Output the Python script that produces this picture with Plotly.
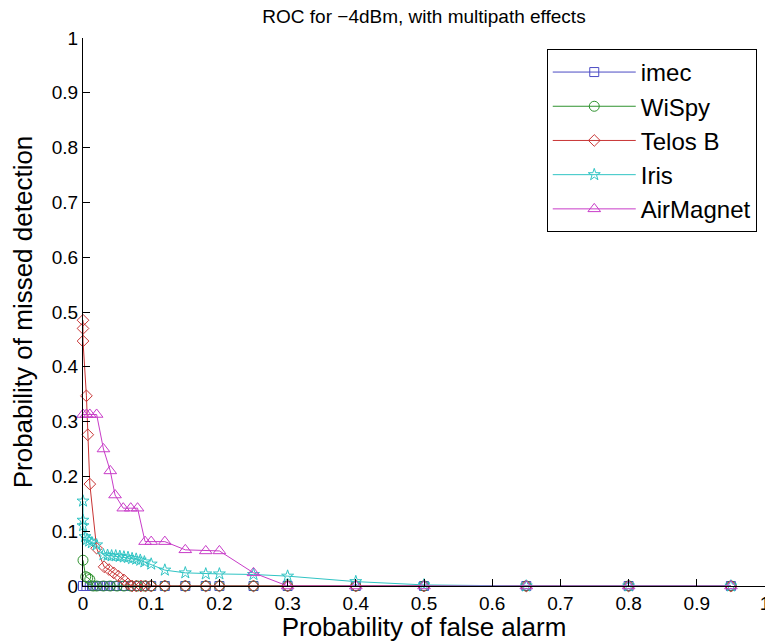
import plotly.graph_objects as go

# ---- data ----
imec_x = [0, 0.005, 0.01, 0.015, 0.02, 0.025, 0.03, 0.035, 0.04, 0.045, 0.05, 0.06, 0.07,
          0.08, 0.09, 0.1, 0.12, 0.15, 0.18, 0.2, 0.25, 0.3, 0.4, 0.5, 0.65, 0.8, 0.95]
imec_y = [0] * len(imec_x)

wispy_x = [0, 0.004, 0.007, 0.01, 0.015, 0.02, 0.03, 0.04, 0.05, 0.06, 0.07, 0.08, 0.09,
           0.1, 0.12, 0.15, 0.18, 0.2, 0.25, 0.3, 0.4, 0.5, 0.65, 0.8, 0.95]
wispy_y = [0.047, 0.017, 0.015, 0.012, 0, 0, 0, 0, 0, 0, 0, 0, 0,
           0, 0, 0, 0, 0, 0, 0, 0, 0, 0, 0, 0]

telos_x = [0, 0, 0, 0.005, 0.007, 0.01, 0.02, 0.031, 0.038, 0.045, 0.052, 0.06, 0.066,
           0.072, 0.078, 0.085, 0.092, 0.1, 0.12, 0.15, 0.18, 0.2, 0.25, 0.3, 0.4,
           0.5, 0.65, 0.8, 0.95]
telos_y = [0.485, 0.47, 0.447, 0.347, 0.276, 0.186, 0.069, 0.035, 0.03, 0.024, 0.018, 0.011,
           0.004, 0, 0, 0, 0, 0, 0, 0, 0, 0, 0, 0, 0, 0, 0, 0, 0]

iris_x = [0, 0, 0, 0.003, 0.006, 0.009, 0.013, 0.02, 0.03, 0.036, 0.042, 0.048, 0.054,
          0.06, 0.066, 0.072, 0.078, 0.084, 0.09, 0.1, 0.12, 0.15, 0.18, 0.2, 0.25,
          0.3, 0.4, 0.5, 0.65, 0.8, 0.95]
iris_y = [0.155, 0.12, 0.11, 0.09, 0.085, 0.082, 0.079, 0.075, 0.057, 0.056, 0.055, 0.055,
          0.054, 0.053, 0.052, 0.05, 0.049, 0.047, 0.044, 0.04, 0.029, 0.024, 0.022, 0.022,
          0.021, 0.018, 0.008, 0.002, 0, 0, 0]

air_x = [0, 0.005, 0.01, 0.02, 0.03, 0.04, 0.047, 0.059, 0.07, 0.08, 0.091, 0.1, 0.12,
         0.15, 0.18, 0.2, 0.25, 0.3, 0.4, 0.5, 0.65, 0.8, 0.95]
air_y = [0.313, 0.313, 0.313, 0.313, 0.25, 0.21, 0.166, 0.142, 0.142, 0.142, 0.081, 0.081,
         0.081, 0.066, 0.064, 0.064, 0.024, 0, 0, 0, 0, 0, 0]

series_names = ["imec", "WiSpy", "Telos B", "Iris", "AirMagnet"]
tick_vals = [i / 10 for i in range(11)]
tick_text = ["0", "0.1", "0.2", "0.3", "0.4", "0.5", "0.6", "0.7", "0.8", "0.9", "1"]

# ---- styles ----
colors = ["#4b4bc4", "#2f922f", "#c83434", "#30c4c4", "#c83cc8"]
symbols = ["square-open", "circle-open", "diamond-open", "star-open", "triangle-up-open"]
sizes = [9, 10, 9, 9, 11]
FONT = "Arial, Liberation Sans, sans-serif"

fig = go.Figure()
for name, xs, ys, c, s, sz in zip(series_names,
                                 [imec_x, wispy_x, telos_x, iris_x, air_x],
                                 [imec_y, wispy_y, telos_y, iris_y, air_y],
                                 colors, symbols, sizes):
    fig.add_trace(go.Scatter(
        x=xs, y=ys, name=name, mode="lines+markers",
        line=dict(color=c, width=1),
        marker=dict(symbol=s, size=sz, color=c, line=dict(width=1, color=c)),
        cliponaxis=False,
    ))

axis_common = dict(
    range=[0, 1], tickmode="array", tickvals=tick_vals, ticktext=tick_text,
    showgrid=False, zeroline=False, showline=True, linecolor="black", linewidth=1,
    ticks="inside", ticklen=7, tickcolor="black", mirror=False, automargin=False,
    tickfont=dict(family=FONT, size=19, color="black"),
)

# page body has an 8px margin, so the figure is 8px smaller and the margins shifted
fig.update_layout(
    width=765, height=634,
    margin=dict(l=75, r=8, t=30, b=56),
    paper_bgcolor="white", plot_bgcolor="white",
    font=dict(family=FONT, color="black"),
    title=dict(text="ROC for \u22124dBm, with multipath effects", x=0.5438, xanchor="center",
               xref="container", yref="container", y=0.997, yanchor="top",
               pad=dict(t=0, b=0),
               font=dict(family=FONT, size=19, color="black")),
    xaxis=dict(**axis_common,
               title=dict(text="Probability of false alarm", standoff=2,
                          font=dict(family=FONT, size=26, color="black"))),
    yaxis=dict(**axis_common,
               title=dict(text="Probability of missed detection", standoff=12,
                          font=dict(family=FONT, size=26, color="black"))),
    legend=dict(x=0.68, y=0.98, xanchor="left", yanchor="top",
                bgcolor="white", bordercolor="black", borderwidth=1,
                font=dict(family=FONT, size=24, color="black"),
                itemwidth=83, tracegroupgap=0),
    showlegend=True,
)

fig.write_html("out.html")
